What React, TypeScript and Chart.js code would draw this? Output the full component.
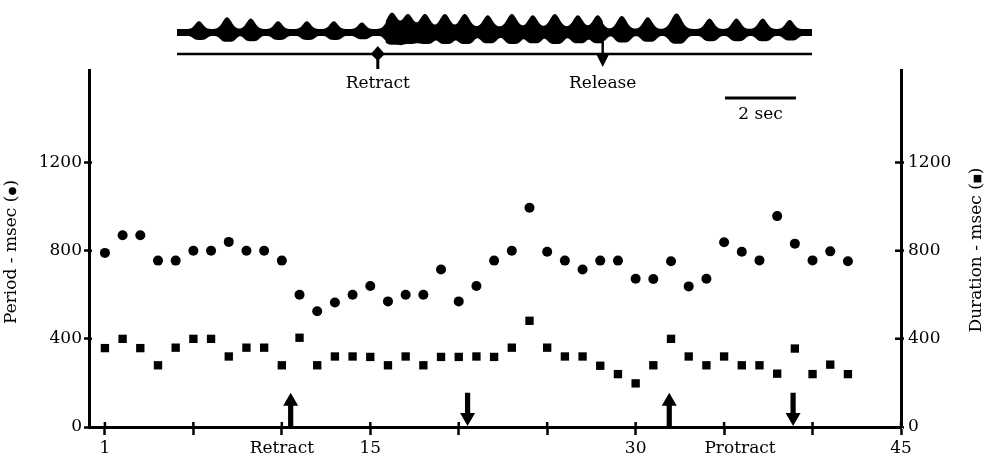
import React, { useEffect, useRef } from 'react';
import { Chart, registerables } from 'chart.js';

Chart.register(...registerables);

// ---- data ----
const cycles = [0, 1, 2, 3, 4, 5, 6, 7, 8, 9, 10, 11, 12, 13, 14, 15, 16, 17, 18, 19, 20, 21,
  22, 23, 24, 25, 26, 27, 28, 29, 30, 31, 32, 33, 34, 35, 36, 37, 38, 39, 40, 41, 42];
const periodMs = [790, 870, 870, 755, 755, 800, 800, 840, 800, 800, 755, 600, 525, 565, 600, 640,
  570, 600, 600, 715, 570, 640, 755, 800, 995, 795, 755, 715, 755, 755, 673, 672, 752, 638, 673,
  838, 795, 756, 957, 832, 756, 797, 752];
const durationMs = [358, 400, 358, 280, 360, 400, 400, 320, 360, 360, 280, 405, 280, 320, 320, 318,
  280, 320, 280, 318, 318, 320, 318, 360, 482, 360, 320, 320, 278, 240, 198, 280, 400, 320, 280,
  320, 280, 280, 242, 356, 240, 283, 240];

const xTickMarks = [0, 5, 10, 15, 20, 25, 30, 35, 40, 45];
const xLabelPositions = [0, 10, 15, 30, 35.9, 45];
const xLabels = ['1', 'Retract', '15', '30', 'Protract', '45'];
const yTickValues = [0, 400, 800, 1200];

const arrowCycles = [10.5, 20.5, 31.9, 38.9];
const arrowDirections = ['up', 'down', 'up', 'down'];

// inset recording: burst times (sec) and relative burst sizes
const burstTimes = [0.62, 1.41, 2.08, 2.85, 3.66, 4.42, 5.21, 6.06, 6.51, 6.99, 7.55, 8.11, 8.76,
  9.44, 10.03, 10.65, 11.3, 11.86, 12.54, 13.27, 14.08, 15.01, 15.77, 16.51, 17.27];
const burstSizes = [0.6, 0.9, 0.8, 0.6, 0.6, 0.6, 0.5, 1.1, 1.0, 1.0, 1.0, 1.0, 0.9, 1.0, 0.9,
  1.0, 0.9, 0.9, 1.0, 0.9, 1.2, 0.8, 0.8, 0.8, 0.7];
const traceSeconds = 17.9;
const retractTime = 5.66;
const releaseTime = 12.0;

const FONT_FAMILY = '"DejaVu Serif", "Liberation Serif", serif';
const FONT_SIZE = 17;

const tickValues = Array.from(new Set([...xTickMarks, ...xLabelPositions])).sort((a, b) => a - b);

function drawTitle(
  ctx: CanvasRenderingContext2D,
  cx: number,
  cy: number,
  before: string,
  shape: 'circle' | 'square',
) {
  const after = ')';
  const symW = 9;
  const wb = ctx.measureText(before).width;
  const wa = ctx.measureText(after).width;
  const total = wb + symW + wa;
  ctx.save();
  ctx.translate(cx, cy);
  ctx.rotate(-Math.PI / 2);
  ctx.textAlign = 'left';
  ctx.textBaseline = 'middle';
  let x = -total / 2;
  ctx.fillText(before, x, 0);
  x += wb;
  ctx.beginPath();
  if (shape === 'circle') {
    ctx.arc(x + symW / 2, 0.5, 3.8, 0, Math.PI * 2);
  } else {
    ctx.rect(x + symW / 2 - 3.8, 0.5 - 3.8, 7.6, 7.6);
  }
  ctx.fill();
  x += symW;
  ctx.fillText(after, x, 0);
  ctx.restore();
}

export default function App() {
  const ref = useRef<HTMLCanvasElement>(null);

  useEffect(() => {
    const canvas = ref.current;
    if (!canvas) return;

    const overlay = {
      id: 'overlay',
      afterDraw(chart: any) {
        const ctx = chart.ctx as CanvasRenderingContext2D;
        const xs = chart.scales.x;
        const ys = chart.scales.y;
        const area = chart.chartArea;
        ctx.save();
        ctx.fillStyle = '#000';
        ctx.strokeStyle = '#000';

        // inward parts of ticks
        ctx.lineWidth = 2.5;
        ctx.beginPath();
        xTickMarks.forEach((v) => {
          const px = xs.getPixelForValue(v);
          ctx.moveTo(px, area.bottom);
          ctx.lineTo(px, area.bottom - 5);
        });
        yTickValues.forEach((v) => {
          if (v === 0) return;
          const py = ys.getPixelForValue(v);
          ctx.moveTo(area.left, py);
          ctx.lineTo(area.left + 3, py);
          ctx.moveTo(area.right, py);
          ctx.lineTo(area.right - 6, py);
        });
        ctx.stroke();

        // arrows
        arrowCycles.forEach((c, i) => {
          const px = xs.getPixelForValue(c);
          const top = ys.getPixelForValue(155);
          const bottom = ys.getPixelForValue(4);
          const hw = 7.5, sw = 2.6, hh = 13;
          ctx.beginPath();
          if (arrowDirections[i] === 'up') {
            ctx.moveTo(px, top);
            ctx.lineTo(px + hw, top + hh);
            ctx.lineTo(px + sw, top + hh);
            ctx.lineTo(px + sw, bottom);
            ctx.lineTo(px - sw, bottom);
            ctx.lineTo(px - sw, top + hh);
            ctx.lineTo(px - hw, top + hh);
          } else {
            ctx.moveTo(px, bottom);
            ctx.lineTo(px + hw, bottom - hh);
            ctx.lineTo(px + sw, bottom - hh);
            ctx.lineTo(px + sw, top);
            ctx.lineTo(px - sw, top);
            ctx.lineTo(px - sw, bottom - hh);
            ctx.lineTo(px - hw, bottom - hh);
          }
          ctx.closePath();
          ctx.fill();
        });

        // axis titles
        ctx.font = `${FONT_SIZE}px ${FONT_FAMILY}`;
        drawTitle(ctx, area.left - 77, 252, 'Period - msec (', 'circle');
        drawTitle(ctx, area.right + 76, 250, 'Duration - msec (', 'square');

        // ---- inset recording ----
        const tl = area.left + 88;
        const tr = area.left + 723;
        const pps = (tr - tl) / traceSeconds;
        const rx = tl + retractTime * pps;
        const lx = tl + releaseTime * pps;
        const tops: number[] = [];
        const bots: number[] = [];
        const pxs: number[] = [];
        for (let x = tl; x <= tr; x += 0.5) {
          let up = 0, dn = 0;
          burstTimes.forEach((t, i) => {
            const s = burstSizes[i];
            const bx = tl + t * pps;
            const du = (x - bx) / (3.5 + 3 * s);
            up += s * 13 * Math.exp(-du * du);
            const dd = (x - bx - 1) / (6 + 3 * s);
            dn += s * 6.5 * Math.exp(-dd * dd * dd * dd);
          });
          const retracted = x > rx + 8 && x < lx;
          const topBase = retracted ? 27 : 29;
          const botBase = retracted ? 37.5 : 36;
          pxs.push(x);
          tops.push(topBase - up);
          bots.push(botBase + dn);
        }
        ctx.beginPath();
        ctx.moveTo(pxs[0], tops[0]);
        for (let i = 1; i < pxs.length; i++) ctx.lineTo(pxs[i], tops[i]);
        for (let i = pxs.length - 1; i >= 0; i--) ctx.lineTo(pxs[i], bots[i]);
        ctx.closePath();
        ctx.fill();

        // baseline
        ctx.lineWidth = 2.5;
        ctx.beginPath();
        ctx.moveTo(tl, 54);
        ctx.lineTo(tr, 54);
        ctx.stroke();

        // retract marker
        ctx.beginPath();
        ctx.moveTo(rx, 46);
        ctx.lineTo(rx + 7, 54);
        ctx.lineTo(rx, 61);
        ctx.lineTo(rx - 7, 54);
        ctx.closePath();
        ctx.fill();
        ctx.fillRect(rx - 1.5, 54, 3, 15);

        // release marker
        ctx.fillRect(lx - 1.2, 38, 2.4, 18);
        ctx.beginPath();
        ctx.moveTo(lx - 6, 55);
        ctx.lineTo(lx + 6, 55);
        ctx.lineTo(lx, 67);
        ctx.closePath();
        ctx.fill();

        ctx.textAlign = 'center';
        ctx.textBaseline = 'middle';
        ctx.fillText('Retract', rx, 84);
        ctx.fillText('Release', lx, 84);

        // scale bar: 2 sec
        ctx.lineWidth = 3;
        ctx.beginPath();
        ctx.moveTo(area.left + 636, 98);
        ctx.lineTo(area.left + 636 + 2 * pps, 98);
        ctx.stroke();
        ctx.fillText('2 sec', area.left + 636 + pps, 115);

        ctx.restore();
      },
    };

    const font = { family: FONT_FAMILY, size: FONT_SIZE };
    const plainNumber = (v: any) => String(v);

    const chart = new Chart(canvas, {
      type: 'scatter',
      data: {
        datasets: [
          {
            label: 'Period',
            data: cycles.map((c, i) => ({ x: c, y: periodMs[i] })),
            yAxisID: 'y',
            pointStyle: 'circle',
            pointRadius: 5,
            backgroundColor: '#000',
            borderColor: '#000',
            borderWidth: 0,
          },
          {
            label: 'Duration',
            data: cycles.map((c, i) => ({ x: c, y: durationMs[i] })),
            yAxisID: 'y2',
            pointStyle: 'rect',
            pointRadius: 5.9,
            backgroundColor: '#000',
            borderColor: '#000',
            borderWidth: 0,
          },
        ],
      },
      options: {
        responsive: false,
        animation: false,
        layout: { padding: { top: 70, left: 0, right: 0, bottom: 0 } },
        plugins: { legend: { display: false }, tooltip: { enabled: false } },
        scales: {
          x: {
            type: 'linear',
            position: 'bottom',
            min: -0.9,
            max: 45,
            afterBuildTicks: (s: any) => {
              s.ticks = tickValues.map((v) => ({ value: v }));
            },
            afterFit: (s: any) => {
              s.height = 35;
            },
            ticks: {
              autoSkip: false,
              maxRotation: 0,
              padding: 3,
              color: '#000',
              font,
              callback: (v: any) => {
                const idx = xLabelPositions.indexOf(Number(v));
                return idx >= 0 ? xLabels[idx] : '';
              },
            },
            grid: {
              drawOnChartArea: false,
              tickLength: 8,
              tickWidth: 2.5,
              tickColor: (c: any) =>
                c.tick && xTickMarks.includes(c.tick.value) ? '#000' : 'rgba(0,0,0,0)',
            },
            border: { color: '#000', width: 3 },
          },
          y: {
            type: 'linear',
            position: 'left',
            min: 0,
            max: 1620,
            afterBuildTicks: (s: any) => {
              s.ticks = yTickValues.map((v) => ({ value: v }));
            },
            afterFit: (s: any) => {
              s.width = 89;
            },
            ticks: { padding: 2, color: '#000', font, callback: plainNumber },
            grid: { drawOnChartArea: false, tickLength: 5, tickWidth: 2.5, tickColor: '#000' },
            border: { color: '#000', width: 3 },
          },
          y2: {
            type: 'linear',
            position: 'right',
            min: 0,
            max: 1620,
            afterBuildTicks: (s: any) => {
              s.ticks = yTickValues.map((v) => ({ value: v }));
            },
            afterFit: (s: any) => {
              s.width = 92;
            },
            ticks: { padding: 4, color: '#000', font, callback: plainNumber },
            grid: { drawOnChartArea: false, tickLength: 3, tickWidth: 2.5, tickColor: '#000' },
            border: { color: '#000', width: 3 },
          },
        },
      },
      plugins: [overlay],
    } as any);

    return () => chart.destroy();
  }, []);

  return (
    <div style={{ position: 'fixed', left: 0, top: 0, width: 993, height: 462, background: '#fff' }}>
      <canvas ref={ref} width={993} height={462} style={{ width: 993, height: 462, display: 'block' }} />
    </div>
  );
}
